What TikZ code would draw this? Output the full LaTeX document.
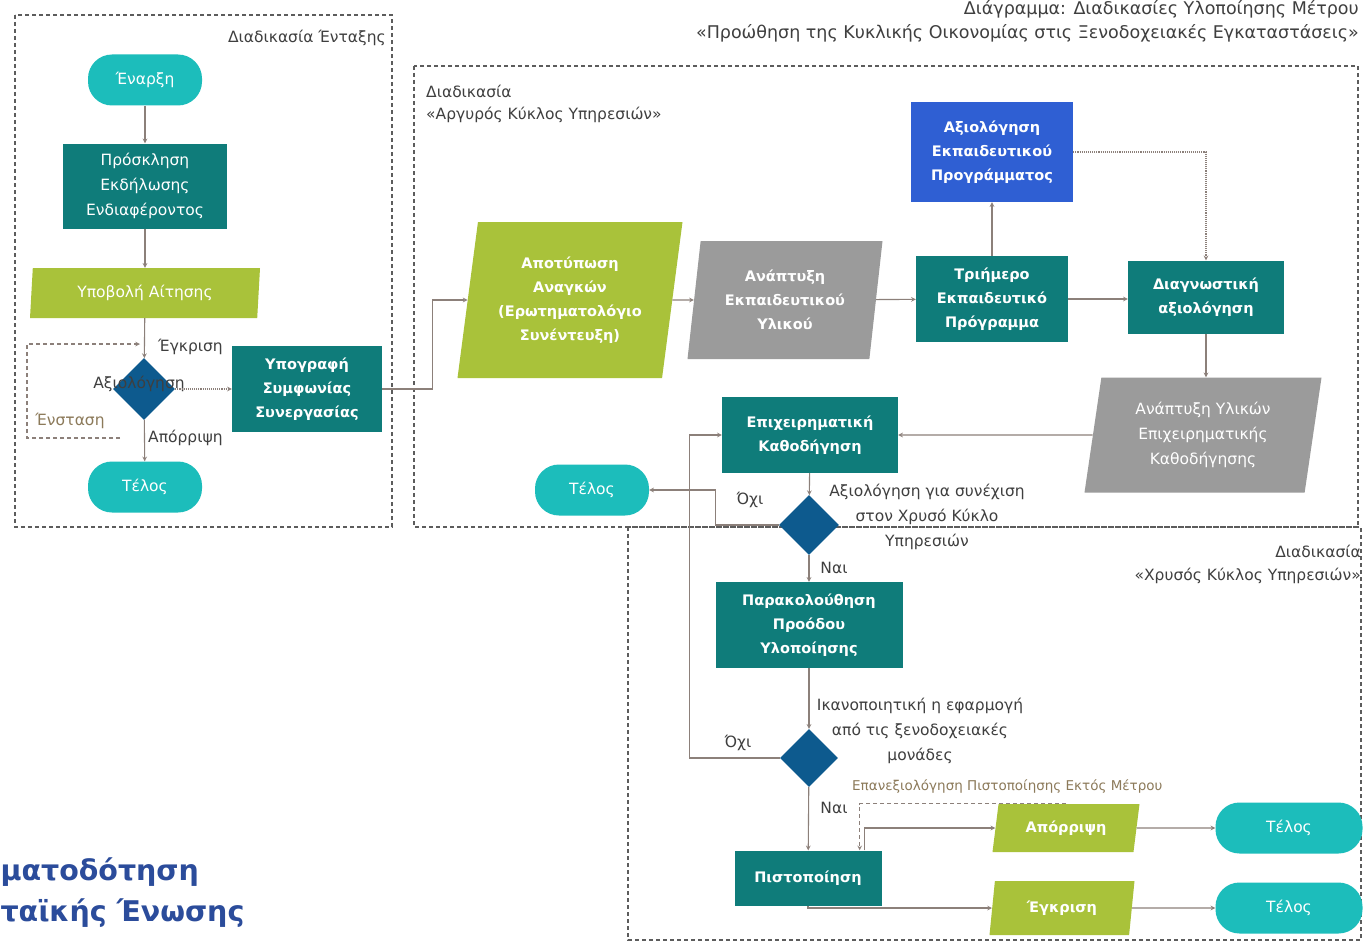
\documentclass[tikz,border=0pt]{standalone}
\usepackage{fontspec}
\setmainfont{DejaVu Sans}
\usetikzlibrary{shapes.geometric}
\definecolor{tealbox}{HTML}{0F7C7A}
\definecolor{cyanend}{HTML}{1CBDBB}
\definecolor{limebox}{HTML}{A9C23A}
\definecolor{greybox}{HTML}{9B9B9B}
\definecolor{bluebox}{HTML}{2F5FD3}
\definecolor{diamblue}{HTML}{0D5A8E}
\definecolor{linecol}{HTML}{8C807A}
\definecolor{labelcol}{HTML}{3F3F3F}
\definecolor{objcol}{HTML}{8C7A5A}
\definecolor{eutitle}{HTML}{2B4C9B}

\begin{document}
\begin{tikzpicture}[x=1pt,y=-1pt,
  txt/.style={font=\fontsize{15.5}{25}\selectfont},
  btxt/.style={font=\fontsize{14.5}{24}\selectfont\bfseries},
  procbox/.style={rectangle, fill=tealbox, text=white, align=center, inner sep=2pt},
  endbox/.style={rectangle, rounded corners=24pt, fill=cyanend, text=white, align=center, minimum width=114pt, minimum height=51pt, txt},
  iobox/.style={trapezium, trapezium stretches body=true, fill=limebox, text=white, align=center, inner sep=1pt},
  decbox/.style={diamond, fill=diamblue, inner sep=0pt, minimum size=#1},
  lbl/.style={text=labelcol, txt, align=center, inner sep=1pt},
  lane/.style={draw=labelcol!85, line width=1.1pt, dash pattern=on 4pt off 3pt},
  arr/.style={draw=linecol, line width=1.1pt, -stealth},
  dotarr/.style={arr, densely dotted},
  dasharr/.style={arr, dash pattern=on 4pt off 3pt}]
\useasboundingbox (0,0) rectangle (1364,947);
\fill[white] (0,0) rectangle (1364,947);

\draw[lane] (15,15) rectangle (392,527);
\draw[lane] (414,66) rectangle (1358,527);
\draw[lane] (628,527) rectangle (1361,940);

\node[lbl, anchor=east, font=\fontsize{17.5}{20}\selectfont] (title1) at (1360,9) {Διάγραμμα: Διαδικασίες Υλοποίησης Μέτρου};
\node[lbl, anchor=east, font=\fontsize{17.5}{20}\selectfont] (title2) at (1360,33) {«Προώθηση της Κυκλικής Οικονομίας στις Ξενοδοχειακές Εγκαταστάσεις»};
\node[lbl, anchor=east] (laneA) at (387,38) {Διαδικασία Ένταξης};
\node[lbl, anchor=west] (laneB1) at (425,91) {Διαδικασία};
\node[lbl, anchor=west] (laneB2) at (425,115) {«Αργυρός Κύκλος Υπηρεσιών»};
\node[lbl, anchor=east] (laneC1) at (1362,551) {Διαδικασία};
\node[lbl, anchor=east] (laneC2) at (1362,576) {«Χρυσός Κύκλος Υπηρεσιών»};

\node[endbox] (start) at (145,80) {Έναρξη};
\node[procbox, txt, minimum width=164pt, minimum height=85pt] (invite) at (145,186) {Πρόσκληση\\Εκδήλωσης\\Ενδιαφέροντος};
\node[iobox, txt, trapezium left angle=81, trapezium right angle=99, minimum width=230pt, minimum height=50pt] (apply) at (145,293) {Υποβολή Αίτησης};
\node[decbox=62pt] (eval1) at (144,389) {};
\node[procbox, btxt, minimum width=150pt, minimum height=86pt] (sign) at (307,389) {Υπογραφή\\Συμφωνίας\\Συνεργασίας};
\node[endbox] (end1) at (145,487) {Τέλος};
\node[lbl, anchor=west] (yes1) at (157,347) {Έγκριση};
\node[lbl] (evaltxt) at (139,384) {Αξιολόγηση};
\node[lbl, anchor=west] (no1) at (147,438) {Απόρριψη};
\node[lbl, text=objcol] (objtxt) at (70,421) {Ένσταση};
\coordinate (objA) at (120,438);
\coordinate (objT) at (140,344);

\node[iobox, btxt, trapezium left angle=77, trapezium right angle=103, minimum width=225pt, minimum height=156pt] (survey) at (570,300) {Αποτύπωση\\Αναγκών\\(Ερωτηματολόγιο\\Συνέντευξη)};
\node[iobox, btxt, fill=greybox, trapezium left angle=78, trapezium right angle=102, minimum width=195pt, minimum height=118pt] (devmat) at (785,300) {Ανάπτυξη\\Εκπαιδευτικού\\Υλικού};
\node[procbox, btxt, minimum width=152pt, minimum height=86pt] (train) at (992,299) {Τριήμερο\\Εκπαιδευτικό\\Πρόγραμμα};
\node[procbox, btxt, fill=bluebox, minimum width=162pt, minimum height=100pt] (evalprog) at (992,152) {Αξιολόγηση\\Εκπαιδευτικού\\Προγράμματος};
\node[procbox, btxt, minimum width=156pt, minimum height=73pt] (diag) at (1206,297) {Διαγνωστική\\αξιολόγηση};
\node[iobox, txt, fill=greybox, trapezium left angle=76, trapezium right angle=104, minimum width=237pt, minimum height=115pt] (devguide) at (1203,435) {Ανάπτυξη Υλικών\\Επιχειρηματικής\\Καθοδήγησης};
\node[procbox, btxt, minimum width=176pt, minimum height=76pt] (coach) at (810,435) {Επιχειρηματική\\Καθοδήγηση};
\node[endbox] (end2) at (592,490) {Τέλος};
\node[decbox=60pt] (dec2) at (809,525) {};
\node[lbl] (no2) at (750,500) {Όχι};
\node[lbl] (dec2txt) at (927,517) {Αξιολόγηση για συνέχιση\\στον Χρυσό Κύκλο\\Υπηρεσιών};

\node[lbl] (yes2) at (834,568) {Ναι};
\node[procbox, btxt, minimum width=187pt, minimum height=86pt] (monitor) at (809,625) {Παρακολούθηση\\Προόδου\\Υλοποίησης};
\node[decbox=58pt] (dec3) at (809,758) {};
\node[lbl] (dec3txt) at (920,731) {Ικανοποιητική η εφαρμογή\\από τις ξενοδοχειακές\\μονάδες};
\node[lbl] (no3) at (738,743) {Όχι};
\node[lbl] (yes3) at (834,808) {Ναι};
\node[procbox, btxt, minimum width=147pt, minimum height=55pt] (cert) at (808,878) {Πιστοποίηση};
\node[lbl, anchor=west, text=objcol, font=\fontsize{13.5}{16}\selectfont] (retxt) at (851,787) {Επανεξιολόγηση Πιστοποίησης Εκτός Μέτρου};
\node[iobox, btxt, trapezium left angle=70, trapezium right angle=110, minimum width=147pt, minimum height=48pt] (reject) at (1066,828) {Απόρριψη};
\node[iobox, btxt, trapezium left angle=72, trapezium right angle=108, minimum width=145pt, minimum height=54pt] (approve) at (1062,908) {Έγκριση};
\node[endbox, minimum width=147pt] (end3) at (1289,828) {Τέλος};
\node[endbox, minimum width=147pt] (end4) at (1289,908) {Τέλος};

\node[anchor=west, text=eutitle, font=\fontsize{28.5}{30}\selectfont\bfseries] (eu1) at (-3,872) {ματοδότηση};
\node[anchor=west, text=eutitle, font=\fontsize{28.5}{30}\selectfont\bfseries] (eu2) at (-3,913) {ταϊκής Ένωσης};

\draw[arr] (start) -- (invite);
\draw[arr] (invite) -- (apply);
\draw[arr] (apply) -- (eval1);
\draw[arr] (eval1) -- (end1);
\draw[dotarr] (eval1) -- (sign);
\draw[dasharr] (objA) -- ++(-93,0) |- (objT);
\draw[arr] (sign.east) -- ++(50,0) |- (survey);

\draw[arr] (survey) -- (devmat);
\draw[arr] (devmat) -- (train);
\draw[arr] (train) -- (evalprog);
\draw[arr] (train.east) -- (train.east -| diag.west);
\draw[dotarr] (evalprog.east) -| (diag.north);
\draw[arr] (diag.south) -- (diag.south |- devguide.north);
\draw[arr] (devguide) -- (coach);
\draw[arr] (coach) -- (dec2);
\draw[arr] (dec2.west) -- ++(-63,0) |- (end2.east);
\draw[arr] (dec2) -- (monitor);
\draw[arr] (monitor) -- (dec3);
\draw[arr] (dec3.west) -- ++(-90,0) |- (coach.west);
\draw[arr] (dec3) -- (cert);
\draw[arr] ([xshift=-17pt]cert.north east) |- (reject);
\draw[dasharr] (reject.north) -| ([xshift=-22pt]cert.north east);
\draw[arr] (cert.south) |- (approve);
\draw[arr] (reject) -- (end3);
\draw[arr] (approve) -- (end4);
\end{tikzpicture}
\end{document}
